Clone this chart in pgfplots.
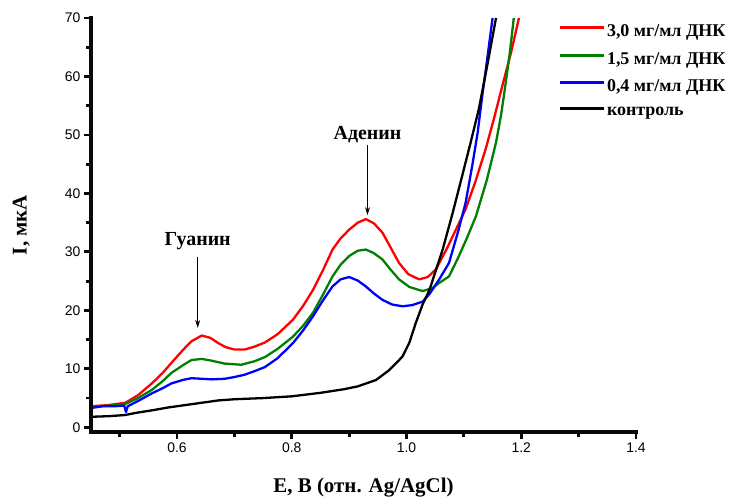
\documentclass[border=0pt]{standalone}
\usepackage{fontspec}
\setmainfont{Liberation Serif}
\newfontfamily\ticksans{Liberation Sans}
\usepackage{pgfplots}
\pgfplotsset{compat=1.18}
\usetikzlibrary{arrows.meta}
\definecolor{cred}{RGB}{255,0,0}
\definecolor{cgreen}{RGB}{0,128,0}
\definecolor{cblue}{RGB}{0,0,255}
\definecolor{axisink}{RGB}{8,8,8}

\begin{document}
\begin{tikzpicture}
\begin{axis}[
    at={(0,0)}, anchor=south west,
    scale only axis,
    width=545bp, height=414bp,
    xmin=0.45, xmax=1.4,
    ymin=-0.8, ymax=70,
    axis lines*=left,
    axis line style={line width=4.2bp, draw=axisink},
    xtick={0.6,0.8,1.0,1.2,1.4},
    minor xtick={0.5,0.7,0.9,1.1,1.3},
    ytick={0,10,20,30,40,50,60,70},
    minor ytick={5,15,25,35,45,55,65},
    tick align=outside,
    major tick length=7bp,
    minor tick length=5bp,
    tick style={draw=axisink, line width=2.8bp},
    /pgf/number format/assume math mode=true,
    xticklabel style={font=\ticksans\fontsize{14}{14}\selectfont,
        /pgf/number format/.cd, fixed, fixed zerofill, precision=1},
    yticklabel style={font=\ticksans\fontsize{14}{14}\selectfont},
    xlabel={E, B (отн. Ag/AgCl)},
    ylabel={I, мкА},
    xlabel style={font=\bfseries\fontsize{21}{21}\selectfont,
        at={(axis description cs:0.5,-0.133)}, anchor=center},
    ylabel style={font=\bfseries\fontsize{21}{21}\selectfont,
        at={(axis description cs:-0.128,0.5)}, anchor=center},
    legend cell align=left,
    legend style={draw=none, fill=none,
        at={(rel axis cs:0.857,0.988)}, anchor=north west,
        inner sep=0pt, outer sep=0pt,
        font=\bfseries\fontsize{18}{18}\selectfont,
        row sep=10bp},
    legend image code/.code={\draw[#1, line width=3bp] (0bp,4bp) -- (44bp,4bp);},
    every axis plot/.append style={line width=2.3bp, line join=round},
]
% 3,0 mg/ml
\addplot[cred] coordinates {
(0.45,3.6)(0.48,3.8)(0.51,4.2)(0.532,5.5)(0.556,7.5)(0.575,9.3)(0.59,11.0)
(0.61,13.2)(0.625,14.7)(0.643,15.7)(0.658,15.3)(0.672,14.4)(0.685,13.7)
(0.70,13.3)(0.718,13.3)(0.735,13.8)(0.753,14.5)(0.775,15.9)(0.802,18.4)
(0.82,20.8)(0.837,23.5)(0.855,27.0)(0.871,30.4)(0.885,32.3)(0.90,33.8)
(0.915,35.0)(0.929,35.6)(0.943,34.9)(0.958,33.3)(0.972,30.8)(0.987,28.1)
(1.003,26.2)(1.022,25.3)(1.037,25.7)(1.051,27.0)(1.07,30.5)(1.087,34.0)
(1.103,37.3)(1.12,42.0)(1.138,47.6)(1.153,53.0)(1.167,58.4)(1.182,64.0)
(1.196,70.0)
};
\addlegendentry{3,0 мг/мл ДНК}
% 1,5 mg/ml
\addplot[cgreen] coordinates {
(0.45,3.5)(0.48,3.7)(0.51,4.0)(0.532,5.0)(0.556,6.4)(0.575,7.9)(0.59,9.3)
(0.61,10.6)(0.625,11.5)(0.643,11.7)(0.66,11.4)(0.683,10.9)(0.712,10.7)
(0.735,11.3)(0.753,12.0)(0.775,13.4)(0.802,15.5)(0.82,17.4)(0.837,19.6)
(0.855,22.8)(0.871,25.8)(0.885,27.8)(0.90,29.3)(0.915,30.2)(0.929,30.4)
(0.943,29.8)(0.958,28.7)(0.972,27.0)(0.987,25.3)(1.005,24.0)(1.028,23.3)
(1.045,23.8)(1.057,24.7)(1.074,25.8)(1.09,29.0)(1.105,32.3)(1.121,36.1)
(1.14,42.3)(1.156,48.7)(1.165,53.5)(1.173,59.0)(1.18,64.0)(1.187,70.0)
};
\addlegendentry{1,5 мг/мл ДНК}
% 0,4 mg/ml
\addplot[cblue] coordinates {
(0.45,3.3)(0.47,3.6)(0.49,3.6)(0.508,3.7)(0.511,2.6)(0.514,3.6)(0.532,4.5)
(0.556,5.8)(0.575,6.7)(0.59,7.5)(0.61,8.1)(0.625,8.4)(0.643,8.3)(0.66,8.2)
(0.683,8.3)(0.70,8.6)(0.718,9.0)(0.735,9.6)(0.753,10.3)(0.775,11.8)
(0.802,14.4)(0.82,16.6)(0.837,19.0)(0.855,21.8)(0.871,24.1)(0.885,25.3)
(0.90,25.7)(0.915,25.1)(0.929,24.1)(0.943,22.9)(0.958,21.8)(0.975,21.0)
(0.993,20.7)(1.01,20.9)(1.028,21.5)(1.04,22.8)(1.057,25.3)(1.074,28.1)
(1.09,33.5)(1.103,38.4)(1.115,45.0)(1.124,50.4)(1.132,56.7)(1.14,62.5)
(1.15,70.0)
};
\addlegendentry{0,4 мг/мл ДНК}
% control
\addplot[black] coordinates {
(0.45,1.8)(0.48,1.9)(0.509,2.1)(0.53,2.5)(0.556,2.9)(0.585,3.4)(0.614,3.8)
(0.643,4.2)(0.672,4.6)(0.70,4.8)(0.75,5.0)(0.80,5.3)(0.85,5.9)(0.89,6.5)
(0.915,7.0)(0.947,8.1)(0.97,9.8)(0.993,12.1)(1.005,14.5)(1.016,17.8)
(1.028,21.0)(1.04,23.5)(1.05,26.5)(1.063,30.4)(1.08,36.5)(1.097,43.0)
(1.112,48.8)(1.126,54.4)(1.14,61.5)(1.156,70.0)
};
\addlegendentry{контроль}
% anchor points for the peak labels and the axis frame
\coordinate (gtxt) at (axis cs:0.636,31.8);
\coordinate (ga) at (axis cs:0.636,29.2);
\coordinate (gb) at (axis cs:0.636,17.0);
\coordinate (atxt) at (axis cs:0.932,50.0);
\coordinate (aa) at (axis cs:0.932,48.2);
\coordinate (ab) at (axis cs:0.932,36.3);
\coordinate (ftl) at (rel axis cs:0,1);
\coordinate (fbl) at (rel axis cs:0,0);
\coordinate (fbr) at (rel axis cs:1,0);
\end{axis}
\draw[line width=4.2bp, axisink, line cap=rect] (ftl) -- (fbl) -- (fbr);
\node[font=\bfseries\fontsize{20}{20}\selectfont] at (gtxt) {Гуанин};
\draw[line width=1.2bp, -{Stealth[length=8bp,width=5bp]}] (ga) -- (gb);
\node[font=\bfseries\fontsize{20}{20}\selectfont] at (atxt) {Аденин};
\draw[line width=1.2bp, -{Stealth[length=8bp,width=5bp]}] (aa) -- (ab);
\pgfresetboundingbox
\useasboundingbox (-91bp,-70bp) rectangle (648bp,432bp);
\end{tikzpicture}
\end{document}
